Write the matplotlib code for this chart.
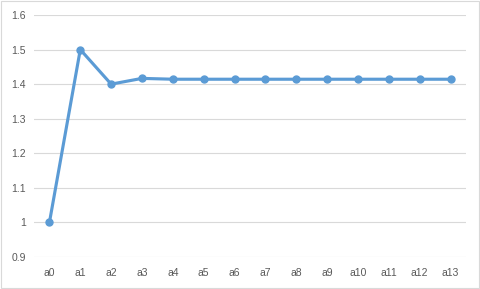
import matplotlib.pyplot as plt
import numpy as np

# sucesion que converge a raiz de 2
etiquetas = ['a0', 'a1', 'a2', 'a3', 'a4', 'a5', 'a6', 'a7', 'a8', 'a9', 'a10', 'a11', 'a12', 'a13']
valores = [1.0, 1.5, 1.4, 1.416667, 1.414216, 1.414214, 1.414214, 1.414214,
           1.414214, 1.414214, 1.414214, 1.414214, 1.414214, 1.414214]
yticks = [0.9, 1.0, 1.1, 1.2, 1.3, 1.4, 1.5, 1.6]
ytick_labels = ['0.9', '1', '1.1', '1.2', '1.3', '1.4', '1.5', '1.6']

plt.rcParams['font.family'] = ['Liberation Sans', 'DejaVu Sans']

fig = plt.figure(figsize=(4.8, 2.89), dpi=100)
ax = fig.add_axes([34/480, 1-257/289, 432/480, 242/289])

x = np.arange(len(etiquetas))
ax.plot(x, valores, color='#5B9BD5', linewidth=2.25, marker='o', markersize=5, zorder=3)

ax.set_xlim(-0.5, len(etiquetas) - 0.5)
ax.set_ylim(0.9, 1.6)
ax.set_yticks(yticks)
ax.set_yticklabels(ytick_labels)
ax.set_xticks(x)
ax.set_xticklabels(etiquetas)
ax.grid(axis='y', color='#D9D9D9', linewidth=0.8)
ax.set_axisbelow(True)
for s in ax.spines.values():
    s.set_visible(False)
ax.tick_params(length=0, colors='#595959', labelsize=7.5)
ax.tick_params(axis='x', pad=8)
ax.tick_params(axis='y', pad=6)

# borde exterior
fig.patches.append(plt.Rectangle((0.002, 0.003), 0.996, 0.994, transform=fig.transFigure,
                                 fill=False, edgecolor='#D9D9D9', linewidth=0.8))

fig.savefig('out.png', dpi=100)
